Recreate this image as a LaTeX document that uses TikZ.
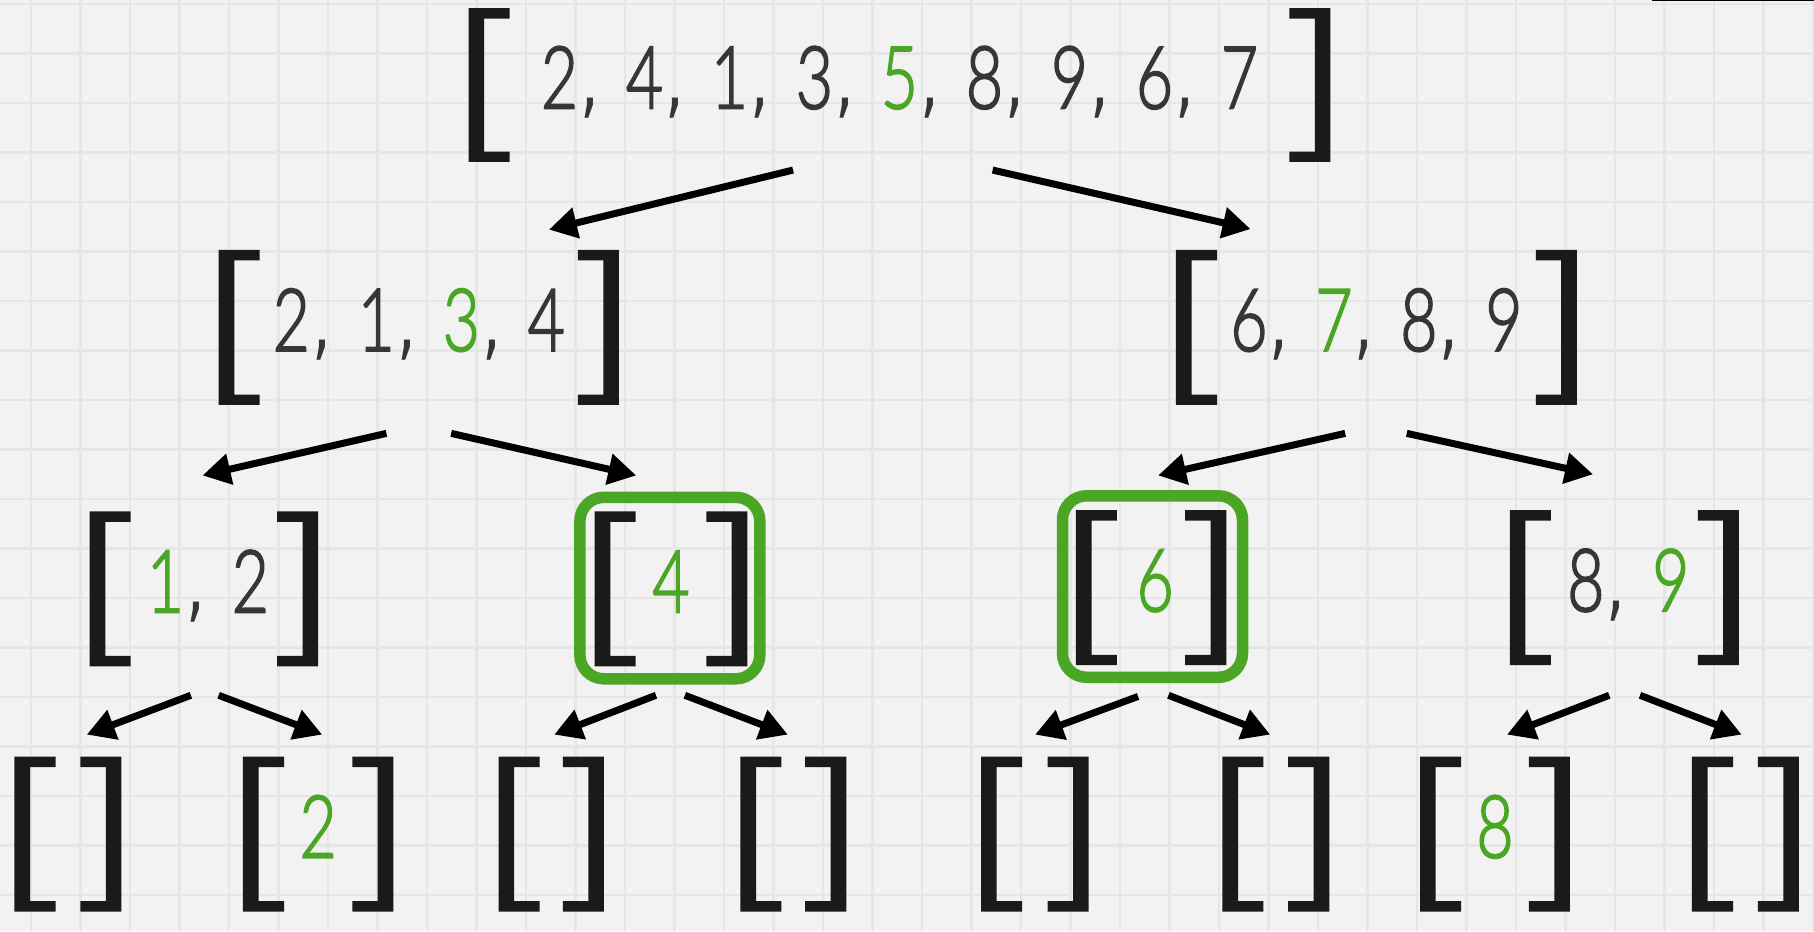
\documentclass[tikz,border=0pt]{standalone}
\usepackage{fontspec}
\usepackage{graphicx}
\newfontfamily\digfont{Lato Light}[FakeBold=2.2]
\newfontfamily\cmfont{DejaVu Sans}
\usetikzlibrary{arrows.meta,calc}
\definecolor{gridbg}{HTML}{F2F2F2}
\definecolor{gridln}{HTML}{E6E6E6}
\definecolor{txtgray}{HTML}{363636}
\definecolor{hlgreen}{HTML}{4CA626}
\definecolor{brkblack}{HTML}{1A1A1A}
\newcommand\U{1.1569pt}
\newcommand\dg[1]{\makebox[36pt][c]{\scalebox{0.74}[1]{#1}}}
\newcommand\cm{\makebox[49pt][l]{\hspace{3pt}{\cmfont\fontsize{84}{88}\selectfont\scalebox{0.7}[1]{,}}}}
\newcommand\gn[1]{\textcolor{hlgreen}{\dg{#1}}}
\newcommand\brk[1]{%
  \fill[brkfill] (#1.north west) -- ++(35.5,0) -- ++(0,9) -- ++(-22,0)
     |- ($(#1.south west)+(35.5,-9)$) -- ++(0,9) -- (#1.south west) -- cycle;
  \fill[brkfill] (#1.north east) -- ++(-35.5,0) -- ++(0,9) -- ++(22,0)
     |- ($(#1.south east)+(-35.5,-9)$) -- ++(0,9) -- (#1.south east) -- cycle;}
\begin{document}
\begin{tikzpicture}[x=1.1569pt,y=-1.1569pt,
  lst/.style 2 args={minimum width=#1*\U, minimum height=#2*\U, inner sep=0pt, outer sep=0pt,
    text height=55pt, text depth=8pt, font=\digfont\fontsize{87}{90}\selectfont, text=txtgray},
  arr/.style={draw=black, line width=7pt, -{Triangle[length=28pt,width=30pt]}},
  hbox/.style={draw=hlgreen, line width=11.5pt, rounded corners=24pt, inner sep=0pt,
    minimum width=180pt, minimum height=181.5pt},
  brkfill/.style={fill=brkblack},
  gridline/.style={draw=gridln, line width=2.2pt}]
\useasboundingbox (0,0) rectangle (1568,805);
\fill[gridbg] (0,0) rectangle (1568,805);
\foreach \i in {0,...,36} \draw[gridline] ({26.8+42.787*\i},0) -- ++(0,805);
\foreach \j in {0,...,18} \draw[gridline] (0,{3.46+42.787*\j}) -- ++(1568,0);
\draw[black, line width=1.5pt] (1428,0.6) -- (1568,0.6);

% level 1
\node[lst={745}{133}] (T) at (777.5,73.5)
  {\dg{2}\cm\dg{4}\cm\dg{1}\cm\dg{3}\cm\gn{5}\cm\dg{8}\cm\dg{9}\cm\dg{6}\cm\dg{7}};
% level 2
\node[lst={346}{134}] (A) at (362,283) {\dg{2}\cm\dg{1}\cm\gn{3}\cm\dg{4}};
\node[lst={346.5}{134}] (B) at (1189.75,283) {\dg{6}\cm\gn{7}\cm\dg{8}\cm\dg{9}};
% level 3
\node[lst={197.5}{134}] (C) at (176.25,509) {\hspace{8pt}\gn{1}\cm\dg{2}};
\node[lst={132}{134}] (D) at (580,509) {\gn{4}};
\node[lst={130}{134}] (E) at (995,508) {\hspace{8pt}\gn{6}};
\node[lst={198}{134}] (F) at (1404,508) {\hspace{8pt}\dg{8}\cm\gn{9}};
% level 4
\node[lst={92.5}{134}] (G1) at (58.75,721) {};
\node[lst={130}{134}] (G2) at (275,721) {\gn{2}};
\node[lst={91}{134}] (G3) at (476.5,721) {};
\node[lst={91.5}{134}] (G4) at (685.75,721) {};
\node[lst={93}{134}] (G5) at (894.5,721) {};
\node[lst={92.4}{134}] (G6) at (1102.8,721) {};
\node[lst={129.5}{134}] (G7) at (1292.25,721) {\gn{8}};
\node[lst={92.5}{134}] (G8) at (1508.75,721) {};

% highlight boxes
\node[hbox] (Dbox) at ($(D.center)+(-1,-0.7)$) {};
\node[hbox] (Ebox) at ($(E.center)+(1.2,-1)$) {};

% brackets
\foreach \n in {T,A,B,C,D,E,F,G1,G2,G3,G4,G5,G6,G7,G8} {\brk{\n}}

% arrows
\draw[arr] ($(T.south)+(-92,7)$) -- ($(A.north)+(112.5,-17.5)$);
\draw[arr] ($(T.south)+(80.5,7)$) -- ($(B.north)+(-108.75,-18)$);
\draw[arr] ($(A.south)+(-28,24.6)$) -- ($(C.north)+(-1.25,-31)$);
\draw[arr] ($(A.south)+(28,24.6)$) -- ($(D.north)+(-30,-31)$);
\draw[arr] ($(B.south)+(-27,24.6)$) -- ($(E.north)+(6,-30)$);
\draw[arr] ($(B.south)+(26.25,24.6)$) -- ($(F.north)+(-27,-31)$);
\draw[arr] ($(C.south)+(-11.25,25)$) -- ($(G1.north)+(16.25,-19)$);
\draw[arr] ($(C.south)+(12.75,25)$) -- ($(G2.north)+(3.5,-19)$);
\draw[arr] ($(D.south)+(-13,25)$) -- ($(G3.north)+(2.5,-19)$);
\draw[arr] ($(D.south)+(12,25)$) -- ($(G4.north)+(-4.75,-19)$);
\draw[arr] ($(E.south)+(-11.3,27)$) -- ($(G5.north)+(0.2,-19)$);
\draw[arr] ($(E.south)+(15,26)$) -- ($(G6.north)+(-4.8,-19)$);
\draw[arr] ($(F.south)+(-13,26)$) -- ($(G7.north)+(10.35,-19)$);
\draw[arr] ($(F.south)+(13.6,26)$) -- ($(G8.north)+(-3.25,-19)$);
\end{tikzpicture}
\end{document}
